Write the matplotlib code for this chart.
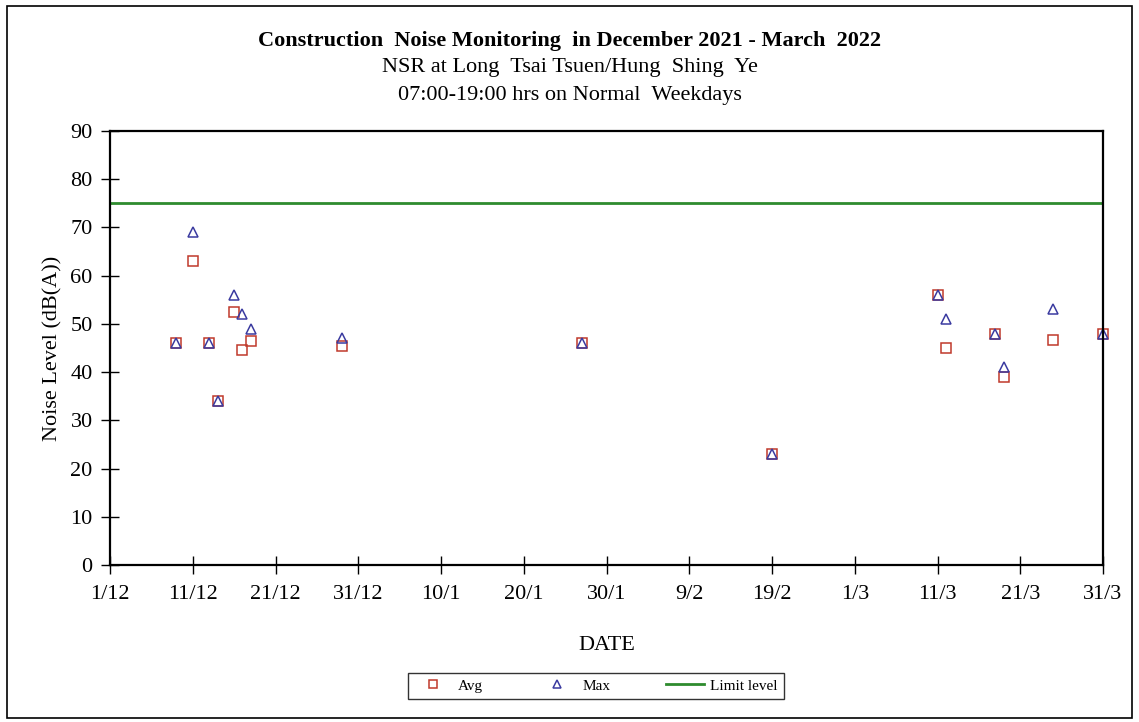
import matplotlib.pyplot as plt
import matplotlib.dates as mdates
from matplotlib.patches import Rectangle
import datetime as dt

plt.rcParams['font.family'] = ['Liberation Serif', 'DejaVu Serif']

# monitoring dates and levels
dates = ["2021-12-09", "2021-12-11", "2021-12-13", "2021-12-14", "2021-12-16",
         "2021-12-17", "2021-12-18", "2021-12-29", "2022-01-27", "2022-02-19",
         "2022-03-11", "2022-03-12", "2022-03-18", "2022-03-19", "2022-03-25",
         "2022-03-31"]
avg = [46, 63, 46, 34, 52.5, 44.6, 46.5, 45.5, 46, 23, 56, 45, 48, 39, 46.6, 48]
mx = [46, 69, 46, 34, 56, 52, 49, 47, 46, 23, 56, 51, 48, 41, 53, 48]
limit = 75

x = [dt.datetime.strptime(d, "%Y-%m-%d") for d in dates]
start = dt.datetime(2021, 12, 1)
end = dt.datetime(2022, 3, 31)

fig = plt.figure(figsize=(11.39, 7.22), dpi=100)
ax = fig.add_axes([0.0966, 0.2175, 0.8718, 0.6011])

ax.plot(x, avg, linestyle="none", marker="s", markersize=7, markerfacecolor="none",
        markeredgecolor="#C0392B", markeredgewidth=1.1, label="Avg", clip_on=False)
ax.plot(x, mx, linestyle="none", marker="^", markersize=7.5, markerfacecolor="none",
        markeredgecolor="#3B3BA0", markeredgewidth=1.1, label="Max", clip_on=False)
ax.axhline(limit, color="#2E8B2E", linewidth=2, label="Limit level")

ax.set_xlim(start, end)
ax.set_ylim(0, 90)
ticks = [start + dt.timedelta(days=10 * i) for i in range(13)]
ax.set_xticks(ticks)
ax.xaxis.set_major_formatter(mdates.DateFormatter("%-d/%-m"))
ax.set_yticks(range(0, 91, 10))
ax.tick_params(direction="inout", length=13, width=1, labelsize=16)
ax.tick_params(axis="y", pad=6)
ax.tick_params(axis="x", pad=8)
for s in ax.spines.values():
    s.set_linewidth(1.6)

ax.set_ylabel("Noise Level (dB(A))", fontsize=16, labelpad=6)
ax.set_xlabel("DATE", fontsize=16, labelpad=23)

fig.text(0.5, 0.943, "Construction  Noise Monitoring  in December 2021 - March  2022",
         ha="center", va="center", fontsize=16, fontweight="bold")
fig.text(0.5, 0.907, "NSR at Long  Tsai Tsuen/Hung  Shing  Ye", ha="center", va="center", fontsize=16)
fig.text(0.5, 0.868, "07:00-19:00 hrs on Normal  Weekdays", ha="center", va="center", fontsize=16)

leg = fig.legend(loc="center", bbox_to_anchor=(0.523, 0.05), ncol=3, fontsize=11,
                 frameon=True, fancybox=False, edgecolor="black", handlelength=2.5,
                 handletextpad=0.4, columnspacing=3.6, borderpad=0.4, markerscale=0.75)
leg.get_frame().set_linewidth(1)

fig.patches.append(Rectangle((0.006, 0.006), 0.988, 0.986, transform=fig.transFigure,
                             fill=False, edgecolor="black", linewidth=1.2))

fig.savefig("out.png", dpi=100)
